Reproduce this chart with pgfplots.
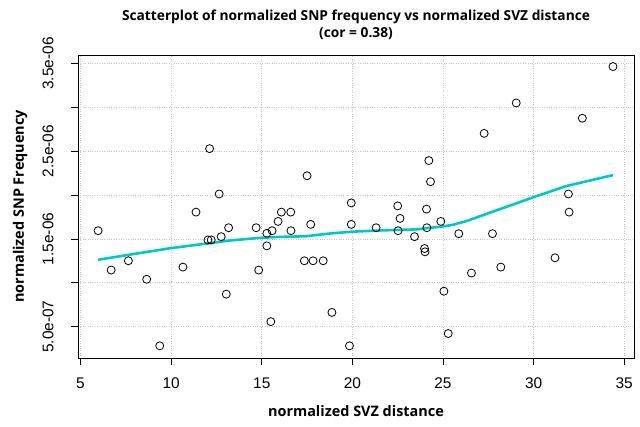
\documentclass[border=0pt]{standalone}
\usepackage{fontspec}
\setmainfont{Liberation Sans}
\newfontfamily\labfont{Open Sans}
\usepackage{pgfplots}
\pgfplotsset{compat=1.18}
\definecolor{lowesscol}{RGB}{0,200,200}
\definecolor{gridcol}{RGB}{200,200,200}
\begin{document}
\begin{tikzpicture}[x=1bp,y=1bp]
\begin{axis}[
  scale only axis,
  width=556bp, height=303bp,
  xmin=4.86, xmax=35.54,
  ymin=0.142e-6, ymax=3.598e-6,
  scaled y ticks=false,
  xtick={5,10,15,20,25,30,35},
  xticklabels={5,10,15,20,25,30,35},
  ytick={0.5e-6,1e-6,1.5e-6,2e-6,2.5e-6,3e-6,3.5e-6},
  yticklabels={5.0e-07,,1.5e-06,,2.5e-06,,3.5e-06},
  tick align=outside,
  xtick pos=left, ytick pos=left,
  major tick length=7bp,
  tick style={black, line width=0.6bp},
  axis line style={black, line width=0.8bp},
  grid=major,
  major grid style={gridcol, dotted, line width=0.8bp},
  ticklabel style={font=\fontsize{15.5}{17}\selectfont},
  xticklabel style={yshift=-9bp},
  yticklabel style={rotate=90, anchor=south, yshift=14bp},
  xlabel={\labfont\bfseries normalized SVZ distance},
  ylabel={\labfont\bfseries normalized SNP Frequency},
  label style={font=\fontsize{14.5}{17}\selectfont},
  xlabel style={at={(axis description cs:0.5,-0.175)}, anchor=center},
  ylabel style={at={(axis description cs:-0.104,0.5)}, anchor=center, rotate=0},
  title={\labfont\bfseries Scatterplot of normalized SNP frequency vs normalized SVZ distance\\ \labfont\bfseries (cor = 0.38)},
  title style={font=\fontsize{13.8}{17}\selectfont, align=center, at={(axis description cs:0.5,1)}, anchor=south, yshift=6bp},
  clip=false,
]
\addplot[only marks, mark=o, mark size=4bp, mark options={black, line width=0.8bp}] coordinates {
(5.97,1.594e-6) (6.69,1.145e-6) (7.64,1.251e-6) (8.65,1.040e-6) (9.37,0.281e-6)
(10.65,1.179e-6) (11.37,1.806e-6) (12.12,2.530e-6) (12.03,1.489e-6) (12.21,1.489e-6)
(12.65,2.013e-6) (12.76,1.526e-6) (13.04,0.870e-6) (13.17,1.628e-6) (14.69,1.628e-6)
(14.83,1.145e-6) (15.28,1.564e-6) (15.28,1.421e-6) (15.50,0.557e-6) (15.57,1.594e-6)
(15.90,1.700e-6) (16.08,1.806e-6) (16.60,1.806e-6) (16.61,1.594e-6) (17.50,2.221e-6)
(17.35,1.251e-6) (17.70,1.666e-6) (17.83,1.251e-6) (18.39,1.251e-6) (18.87,0.662e-6)
(19.84,0.281e-6) (19.94,1.911e-6) (19.94,1.666e-6) (21.31,1.628e-6) (22.50,1.877e-6)
(22.63,1.734e-6) (22.52,1.594e-6) (23.43,1.526e-6) (24.22,2.394e-6) (24.31,2.153e-6)
(24.09,1.840e-6) (24.11,1.628e-6) (23.98,1.391e-6) (24.01,1.353e-6) (24.88,1.700e-6)
(25.05,0.904e-6) (25.29,0.421e-6) (25.87,1.560e-6) (26.57,1.111e-6) (27.27,2.704e-6)
(27.73,1.560e-6) (28.19,1.179e-6) (29.04,3.051e-6) (31.18,1.285e-6) (31.92,2.013e-6)
(31.96,1.806e-6) (32.69,2.877e-6) (34.38,3.466e-6)
};
\addplot[lowesscol, line width=2.6bp, line join=round] coordinates {
(5.97,1.262e-6) (7.66,1.319e-6) (9.95,1.394e-6) (12.25,1.455e-6) (13.17,1.481e-6)
(14.82,1.511e-6) (15.92,1.523e-6) (17.39,1.530e-6) (18.85,1.564e-6) (20.0,1.583e-6)
(21.69,1.598e-6) (23.54,1.609e-6) (25.01,1.643e-6) (25.56,1.662e-6) (26.30,1.704e-6)
(28.14,1.840e-6) (29.98,1.975e-6) (31.82,2.104e-6) (34.38,2.228e-6)
};
\end{axis}
\path (-78,-68) rectangle (562,358);
\end{tikzpicture}
\end{document}
